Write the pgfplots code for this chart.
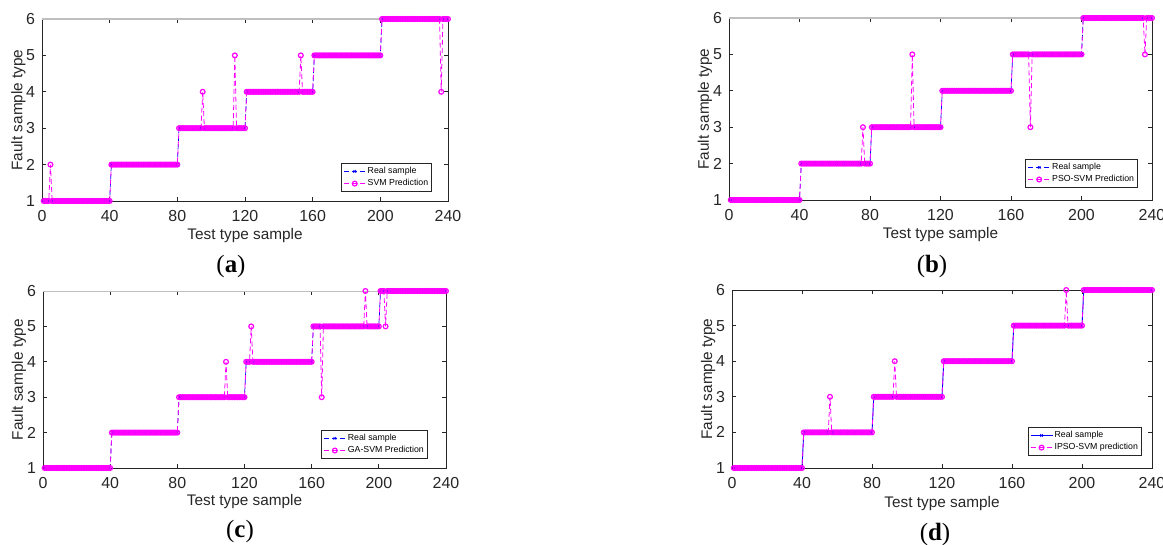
\documentclass[border=0pt]{standalone}
\usepackage{fontspec}
\setmainfont{Liberation Sans}
\newfontfamily\panelfont{Liberation Serif}
\usepackage{pgfplots}
\usepackage{pgfplotstable}
\pgfplotsset{compat=1.18}
\definecolor{mgray}{RGB}{38,38,38}
\definecolor{mblue}{RGB}{0,0,255}
\definecolor{mmag}{RGB}{255,0,255}

\pgfplotstableread[row sep=\\]{
x r a b c d\\
1 1 1 1 1 1\\ 2 1 1 1 1 1\\ 3 1 1 1 1 1\\ 4 1 1 1 1 1\\ 5 1 2 1 1 1\\ 6 1 1 1 1 1\\ 7 1 1 1 1 1\\ 8 1 1 1 1 1\\ 9 1 1 1 1 1\\ 10 1 1 1 1 1\\
11 1 1 1 1 1\\ 12 1 1 1 1 1\\ 13 1 1 1 1 1\\ 14 1 1 1 1 1\\ 15 1 1 1 1 1\\ 16 1 1 1 1 1\\ 17 1 1 1 1 1\\ 18 1 1 1 1 1\\ 19 1 1 1 1 1\\ 20 1 1 1 1 1\\
21 1 1 1 1 1\\ 22 1 1 1 1 1\\ 23 1 1 1 1 1\\ 24 1 1 1 1 1\\ 25 1 1 1 1 1\\ 26 1 1 1 1 1\\ 27 1 1 1 1 1\\ 28 1 1 1 1 1\\ 29 1 1 1 1 1\\ 30 1 1 1 1 1\\
31 1 1 1 1 1\\ 32 1 1 1 1 1\\ 33 1 1 1 1 1\\ 34 1 1 1 1 1\\ 35 1 1 1 1 1\\ 36 1 1 1 1 1\\ 37 1 1 1 1 1\\ 38 1 1 1 1 1\\ 39 1 1 1 1 1\\ 40 1 1 1 1 1\\
41 2 2 2 2 2\\ 42 2 2 2 2 2\\ 43 2 2 2 2 2\\ 44 2 2 2 2 2\\ 45 2 2 2 2 2\\ 46 2 2 2 2 2\\ 47 2 2 2 2 2\\ 48 2 2 2 2 2\\ 49 2 2 2 2 2\\ 50 2 2 2 2 2\\
51 2 2 2 2 2\\ 52 2 2 2 2 2\\ 53 2 2 2 2 2\\ 54 2 2 2 2 2\\ 55 2 2 2 2 2\\ 56 2 2 2 2 3\\ 57 2 2 2 2 2\\ 58 2 2 2 2 2\\ 59 2 2 2 2 2\\ 60 2 2 2 2 2\\
61 2 2 2 2 2\\ 62 2 2 2 2 2\\ 63 2 2 2 2 2\\ 64 2 2 2 2 2\\ 65 2 2 2 2 2\\ 66 2 2 2 2 2\\ 67 2 2 2 2 2\\ 68 2 2 2 2 2\\ 69 2 2 2 2 2\\ 70 2 2 2 2 2\\
71 2 2 2 2 2\\ 72 2 2 2 2 2\\ 73 2 2 2 2 2\\ 74 2 2 2 2 2\\ 75 2 2 2 2 2\\ 76 2 2 3 2 2\\ 77 2 2 2 2 2\\ 78 2 2 2 2 2\\ 79 2 2 2 2 2\\ 80 2 2 2 2 2\\
81 3 3 3 3 3\\ 82 3 3 3 3 3\\ 83 3 3 3 3 3\\ 84 3 3 3 3 3\\ 85 3 3 3 3 3\\ 86 3 3 3 3 3\\ 87 3 3 3 3 3\\ 88 3 3 3 3 3\\ 89 3 3 3 3 3\\ 90 3 3 3 3 3\\
91 3 3 3 3 3\\ 92 3 3 3 3 3\\ 93 3 3 3 3 4\\ 94 3 3 3 3 3\\ 95 3 4 3 3 3\\ 96 3 3 3 3 3\\ 97 3 3 3 3 3\\ 98 3 3 3 3 3\\ 99 3 3 3 3 3\\ 100 3 3 3 3 3\\
101 3 3 3 3 3\\ 102 3 3 3 3 3\\ 103 3 3 3 3 3\\ 104 3 3 5 3 3\\ 105 3 3 3 3 3\\ 106 3 3 3 3 3\\ 107 3 3 3 3 3\\ 108 3 3 3 3 3\\ 109 3 3 3 4 3\\ 110 3 3 3 3 3\\
111 3 3 3 3 3\\ 112 3 3 3 3 3\\ 113 3 3 3 3 3\\ 114 3 5 3 3 3\\ 115 3 3 3 3 3\\ 116 3 3 3 3 3\\ 117 3 3 3 3 3\\ 118 3 3 3 3 3\\ 119 3 3 3 3 3\\ 120 3 3 3 3 3\\
121 4 4 4 4 4\\ 122 4 4 4 4 4\\ 123 4 4 4 4 4\\ 124 4 4 4 5 4\\ 125 4 4 4 4 4\\ 126 4 4 4 4 4\\ 127 4 4 4 4 4\\ 128 4 4 4 4 4\\ 129 4 4 4 4 4\\ 130 4 4 4 4 4\\
131 4 4 4 4 4\\ 132 4 4 4 4 4\\ 133 4 4 4 4 4\\ 134 4 4 4 4 4\\ 135 4 4 4 4 4\\ 136 4 4 4 4 4\\ 137 4 4 4 4 4\\ 138 4 4 4 4 4\\ 139 4 4 4 4 4\\ 140 4 4 4 4 4\\
141 4 4 4 4 4\\ 142 4 4 4 4 4\\ 143 4 4 4 4 4\\ 144 4 4 4 4 4\\ 145 4 4 4 4 4\\ 146 4 4 4 4 4\\ 147 4 4 4 4 4\\ 148 4 4 4 4 4\\ 149 4 4 4 4 4\\ 150 4 4 4 4 4\\
151 4 4 4 4 4\\ 152 4 4 4 4 4\\ 153 4 5 4 4 4\\ 154 4 4 4 4 4\\ 155 4 4 4 4 4\\ 156 4 4 4 4 4\\ 157 4 4 4 4 4\\ 158 4 4 4 4 4\\ 159 4 4 4 4 4\\ 160 4 4 4 4 4\\
161 5 5 5 5 5\\ 162 5 5 5 5 5\\ 163 5 5 5 5 5\\ 164 5 5 5 5 5\\ 165 5 5 5 5 5\\ 166 5 5 5 3 5\\ 167 5 5 5 5 5\\ 168 5 5 5 5 5\\ 169 5 5 5 5 5\\ 170 5 5 5 5 5\\
171 5 5 3 5 5\\ 172 5 5 5 5 5\\ 173 5 5 5 5 5\\ 174 5 5 5 5 5\\ 175 5 5 5 5 5\\ 176 5 5 5 5 5\\ 177 5 5 5 5 5\\ 178 5 5 5 5 5\\ 179 5 5 5 5 5\\ 180 5 5 5 5 5\\
181 5 5 5 5 5\\ 182 5 5 5 5 5\\ 183 5 5 5 5 5\\ 184 5 5 5 5 5\\ 185 5 5 5 5 5\\ 186 5 5 5 5 5\\ 187 5 5 5 5 5\\ 188 5 5 5 5 5\\ 189 5 5 5 5 5\\ 190 5 5 5 5 5\\
191 5 5 5 5 6\\ 192 5 5 5 6 5\\ 193 5 5 5 5 5\\ 194 5 5 5 5 5\\ 195 5 5 5 5 5\\ 196 5 5 5 5 5\\ 197 5 5 5 5 5\\ 198 5 5 5 5 5\\ 199 5 5 5 5 5\\ 200 5 5 5 5 5\\
201 6 6 6 6 6\\ 202 6 6 6 6 6\\ 203 6 6 6 6 6\\ 204 6 6 6 5 6\\ 205 6 6 6 6 6\\ 206 6 6 6 6 6\\ 207 6 6 6 6 6\\ 208 6 6 6 6 6\\ 209 6 6 6 6 6\\ 210 6 6 6 6 6\\
211 6 6 6 6 6\\ 212 6 6 6 6 6\\ 213 6 6 6 6 6\\ 214 6 6 6 6 6\\ 215 6 6 6 6 6\\ 216 6 6 6 6 6\\ 217 6 6 6 6 6\\ 218 6 6 6 6 6\\ 219 6 6 6 6 6\\ 220 6 6 6 6 6\\
221 6 6 6 6 6\\ 222 6 6 6 6 6\\ 223 6 6 6 6 6\\ 224 6 6 6 6 6\\ 225 6 6 6 6 6\\ 226 6 6 6 6 6\\ 227 6 6 6 6 6\\ 228 6 6 6 6 6\\ 229 6 6 6 6 6\\ 230 6 6 6 6 6\\
231 6 6 6 6 6\\ 232 6 6 6 6 6\\ 233 6 6 6 6 6\\ 234 6 6 6 6 6\\ 235 6 6 6 6 6\\ 236 6 4 5 6 6\\ 237 6 6 6 6 6\\ 238 6 6 6 6 6\\ 239 6 6 6 6 6\\ 240 6 6 6 6 6\\
}\data

\pgfplotsset{
  panel/.style={
    scale only axis,
    xmin=0, xmax=240, ymin=1, ymax=6,
    xtick={0,40,...,240}, ytick={1,2,3,4,5,6},
    axis line style={mgray, line width=0.4bp},
    tick style={mgray, line width=0.4bp},
    major tick length=2.2bp,
    tick label style={font=\fontsize{8}{9}\selectfont, text=mgray},
    xticklabel style={yshift=-1.2bp},
    label style={font=\fontsize{7.7}{9}\selectfont, text=mgray},
    /pgf/number format/assume math mode=true,
    xlabel={Test type sample},
    ylabel={Fault sample type},
    legend style={font=\fontsize{4.4}{5}\selectfont, draw=mgray, line width=0.4bp,
      inner xsep=1bp, inner ysep=1bp, row sep=0bp,
      nodes={inner xsep=0.8bp, inner ysep=0.7bp}, cells={anchor=west}},
    legend image code/.code={\draw[mark repeat=2,mark phase=2,##1] plot coordinates {(0bp,0bp) (5.5bp,0bp) (11bp,0bp)};},
  },
  real/.style={mblue, line width=0.35bp, dash pattern=on 2.5bp off 1.5bp, mark=x, mark size=0.9bp, mark options={solid, line width=0.35bp}},
  realsolid/.style={mblue, line width=0.45bp, solid, mark=x, mark size=0.9bp, mark options={solid, line width=0.35bp}},
  pred/.style={mmag, line width=0.4bp, dash pattern=on 2.5bp off 1.5bp, mark=o, mark size=1.2bp, mark options={solid, line width=0.6bp}},
}
\newcommand{\topline}{\draw[black!25, line width=0.6bp] (rel axis cs:0,1) -- (rel axis cs:1,1);}

\begin{document}
\begin{tikzpicture}
% (a)
\begin{axis}[panel, at={(21bp,172bp)}, anchor=south west, width=203bp, height=91bp,
  xlabel style={at={(axis description cs:0.5,-0.192)}, anchor=center},
  ylabel style={at={(axis description cs:-0.058,0.5)}, anchor=center},
  legend style={at={(0.961,0.049)}, anchor=south east}]
\addplot[real] table[x=x,y=r]{\data};
\addplot[pred] table[x=x,y=a]{\data};
\addlegendentry{Real sample}
\addlegendentry{SVM Prediction}
\topline
\end{axis}
% (b)
\begin{axis}[panel, at={(364.5bp,172.5bp)}, anchor=south west, width=211.5bp, height=91bp,
  xlabel style={at={(axis description cs:0.5,-0.192)}, anchor=center},
  ylabel style={at={(axis description cs:-0.057,0.5)}, anchor=center},
  legend style={at={(0.967,0.066)}, anchor=south east}]
\addplot[real] table[x=x,y=r]{\data};
\addplot[pred] table[x=x,y=b]{\data};
\addlegendentry{Real sample}
\addlegendentry{PSO-SVM Prediction}
\topline
\end{axis}
% (c)
\begin{axis}[panel, at={(21.5bp,38.5bp)}, anchor=south west, width=201.5bp, height=88.5bp,
  xlabel style={at={(axis description cs:0.5,-0.192)}, anchor=center},
  ylabel style={at={(axis description cs:-0.06,0.5)}, anchor=center},
  legend style={at={(0.955,0.051)}, anchor=south east}]
\addplot[real] table[x=x,y=r]{\data};
\addplot[pred] table[x=x,y=c]{\data};
\addlegendentry{Real sample}
\addlegendentry{GA-SVM Prediction}
\topline
\end{axis}
% (d)
\begin{axis}[panel, at={(366bp,38.5bp)}, anchor=south west, width=210bp, height=89bp,
  xlabel style={at={(axis description cs:0.5,-0.197)}, anchor=center},
  ylabel style={at={(axis description cs:-0.057,0.5)}, anchor=center},
  legend style={at={(0.976,0.067)}, anchor=south east}]
\addplot[realsolid] table[x=x,y=r]{\data};
\addplot[pred] table[x=x,y=d]{\data};
\addlegendentry{Real sample}
\addlegendentry{IPSO-SVM prediction}
\end{axis}
% panel labels
\node[font=\panelfont\fontsize{12.5}{13}\selectfont] at (115.5bp,139bp) {(\textbf{a})};
\node[font=\panelfont\fontsize{12.5}{13}\selectfont] at (466bp,139bp) {(\textbf{b})};
\node[font=\panelfont\fontsize{12.5}{13}\selectfont] at (120bp,6.5bp) {(\textbf{c})};
\node[font=\panelfont\fontsize{12.5}{13}\selectfont] at (467.5bp,5bp) {(\textbf{d})};
\pgfresetboundingbox
\path[use as bounding box] (0,0) rectangle (581.5bp,272.5bp);
\end{tikzpicture}
\end{document}
